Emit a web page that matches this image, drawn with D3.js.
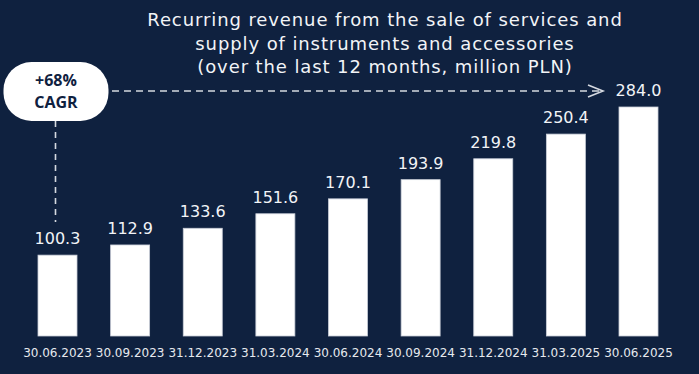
<!DOCTYPE html>
<html>
<head>
<meta charset="utf-8">
<script src="https://cdn.jsdelivr.net/npm/d3@7"></script>
<style>
  html, body { margin: 0; padding: 0; background: #0f213f; }
  svg { display: block; font-family: 'DejaVu Sans', sans-serif; }
</style>
</head>
<body>
<div id="graf"></div>
<script>
const fechas = ['30.06.2023', '30.09.2023', '31.12.2023', '31.03.2024', '30.06.2024',
  '30.09.2024', '31.12.2024', '31.03.2025', '30.06.2025']
const valores = [100.3, 112.9, 133.6, 151.6, 170.1, 193.9, 219.8, 250.4, 284.0]
const titulo = [
  'Recurring revenue from the sale of services and',
  'supply of instruments and accessories',
  '(over the last 12 months, million PLN)',
]
const cagr = ['+68%', 'CAGR']

const ancho = 699
const alto = 374
const base = 336

const svg = d3.select('#graf')
  .append('svg')
  .attr('width', ancho)
  .attr('height', alto)

svg.append('rect')
  .attr('width', ancho)
  .attr('height', alto)
  .attr('fill', '#0f213f')

const x = d3.scaleBand()
  .domain(fechas)
  .range([38, 658])
  .paddingInner(0.463)
  .paddingOuter(0)

const y = d3.scaleLinear()
  .domain([0, 284])
  .range([base, 107])

const datos = fechas.map((f, i) => ({ fecha: f, valor: valores[i] }))

// titulo
svg.append('g')
  .selectAll('text')
  .data(titulo)
  .join('text')
  .attr('x', 385)
  .attr('y', (d, i) => 26 + i * 23.5)
  .attr('text-anchor', 'middle')
  .attr('fill', '#f2f4f7')
  .attr('font-size', 18)
  .attr('letter-spacing', 0.9)
  .text((d) => d)

// barras
svg.append('g')
  .selectAll('rect')
  .data(datos)
  .join('rect')
  .attr('x', (d) => x(d.fecha))
  .attr('y', (d) => y(d.valor))
  .attr('width', x.bandwidth())
  .attr('height', (d) => base - y(d.valor))
  .attr('fill', '#ffffff')
  .attr('stroke', '#c9ced8')
  .attr('stroke-width', 0.8)

// valores
svg.append('g')
  .selectAll('text')
  .data(datos)
  .join('text')
  .attr('x', (d) => x(d.fecha) + x.bandwidth() / 2)
  .attr('y', (d) => y(d.valor) - 11)
  .attr('text-anchor', 'middle')
  .attr('fill', '#f2f4f7')
  .attr('font-size', 16)
  .text((d) => d3.format('.1f')(d.valor))

// eje de fechas
const eje = svg.append('g')
  .attr('transform', `translate(0, ${base})`)
  .call(d3.axisBottom(x).tickSize(0).tickPadding(12))
eje.select('.domain').remove()
eje.selectAll('text')
  .attr('fill', '#e6e9ee')
  .attr('font-size', 12)
  .attr('font-family', "'DejaVu Sans', sans-serif")

// lineas punteadas CAGR
const cx = x(fechas[0]) + x.bandwidth() / 2 - 2
const primero = datos[0]
const yLinea = 91

svg.append('line')
  .attr('x1', cx)
  .attr('x2', cx)
  .attr('y1', 121)
  .attr('y2', y(primero.valor) - 33)
  .attr('stroke', '#d5d9e0')
  .attr('stroke-width', 1.6)
  .attr('stroke-dasharray', '6,5')

svg.append('line')
  .attr('x1', 112)
  .attr('x2', 602)
  .attr('y1', yLinea)
  .attr('y2', yLinea)
  .attr('stroke', '#d5d9e0')
  .attr('stroke-width', 1.6)
  .attr('stroke-dasharray', '7,5')

svg.append('path')
  .attr('d', `M588,${yLinea - 6}L603,${yLinea}L588,${yLinea + 6}`)
  .attr('fill', 'none')
  .attr('stroke', '#d5d9e0')
  .attr('stroke-width', 1.6)

// burbuja CAGR
svg.append('rect')
  .attr('x', cx - 52)
  .attr('y', 62)
  .attr('width', 105)
  .attr('height', 59)
  .attr('rx', 28)
  .attr('fill', '#ffffff')

svg.append('g')
  .selectAll('text')
  .data(cagr)
  .join('text')
  .attr('x', cx + 0.5)
  .attr('y', (d, i) => 86 + i * 22)
  .attr('text-anchor', 'middle')
  .attr('fill', '#0f213f')
  .attr('font-weight', 'bold')
  .attr('font-size', 16)
  .attr('font-family', "'Open Sans', sans-serif")
  .text((d) => d)
</script>
</body>
</html>
